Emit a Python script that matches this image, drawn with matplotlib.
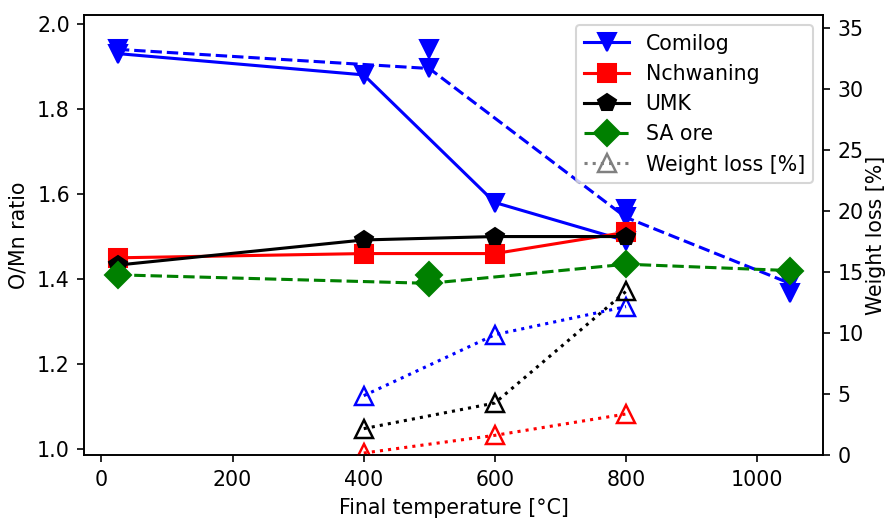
import matplotlib
matplotlib.use("Agg")
import matplotlib.pyplot as plt
from matplotlib.lines import Line2D

# O/Mn ratio vs final temperature
comilog_T = [25, 400, 600, 800]
comilog_omn = [1.93, 1.88, 1.58, 1.49]
comilog2_T = [25, 500, 800, 1050]
comilog2_omn = [1.94, 1.895, 1.545, 1.39]
comilog_rep_T = [500, 800, 1050]
comilog_rep_omn = [1.94, 1.565, 1.368]

nchwaning_T = [25, 400, 600, 800]
nchwaning_omn = [1.45, 1.46, 1.46, 1.51]

umk_T = [25, 400, 600, 800]
umk_omn = [1.433, 1.492, 1.50, 1.50]

sa_T = [25, 500, 800, 1050]
sa_omn = [1.41, 1.39, 1.435, 1.42]
sa_rep_T = [500]
sa_rep_omn = [1.41]

# weight loss [%]
wl_T = [400, 600, 800]
wl_comilog = [4.9, 9.9, 12.2]
wl_umk = [2.2, 4.3, 13.45]
wl_nchwaning = [0.2, 1.65, 3.4]

DPI = 148
fig, ax = plt.subplots(figsize=(889 / DPI, 518 / DPI), dpi=DPI)
fig.subplots_adjust(left=0.0948, right=0.9263, top=0.971, bottom=0.1207)

ms = 8.8
ax.plot(comilog2_T, comilog2_omn, color="blue", ls="--", marker="v", ms=ms, lw=1.5)
ax.plot(comilog_rep_T, comilog_rep_omn, color="blue", ls="none", marker="v", ms=ms)
ax.plot(comilog_T, comilog_omn, color="blue", ls="-", marker="v", ms=ms, lw=1.5)
ax.plot(nchwaning_T, nchwaning_omn, color="red", ls="-", marker="s", ms=ms, lw=1.5)
ax.plot(umk_T, umk_omn, color="black", ls="-", marker="p", ms=ms, lw=1.5)
ax.plot(sa_T, sa_omn, color="green", ls="--", marker="D", ms=ms, lw=1.5)
ax.plot(sa_rep_T, sa_rep_omn, color="green", ls="none", marker="D", ms=ms)

ax.set_ylim(0.9854, 2.0207)
ax.set_xlabel("Final temperature [°C]")
ax.set_ylabel("O/Mn ratio")

ax2 = ax.twinx()
for vals, c in [(wl_comilog, "blue"), (wl_umk, "black"), (wl_nchwaning, "red")]:
    ax2.plot(wl_T, vals, color=c, ls=":", lw=1.5, marker="^", ms=ms,
             mfc="none", mec=c, mew=1.2)
ax2.set_ylim(0, 36.1)
ax2.set_ylabel("Weight loss [%]", labelpad=1)

handles = [
    Line2D([], [], color="blue", ls="-", marker="v", ms=ms, lw=1.5),
    Line2D([], [], color="red", ls="-", marker="s", ms=ms, lw=1.5),
    Line2D([], [], color="black", ls="-", marker="p", ms=ms, lw=1.5),
    Line2D([], [], color="green", ls="--", marker="D", ms=ms, lw=1.5),
    Line2D([], [], color="gray", ls=":", marker="^", ms=ms, lw=1.5, mfc="none", mec="gray", mew=1.2),
]
labels = ["Comilog", "Nchwaning", "UMK", "SA ore", "Weight loss [%]"]
ax2.legend(handles, labels, loc="upper right", handlelength=2.2)

plt.savefig("out.png", dpi=DPI)
